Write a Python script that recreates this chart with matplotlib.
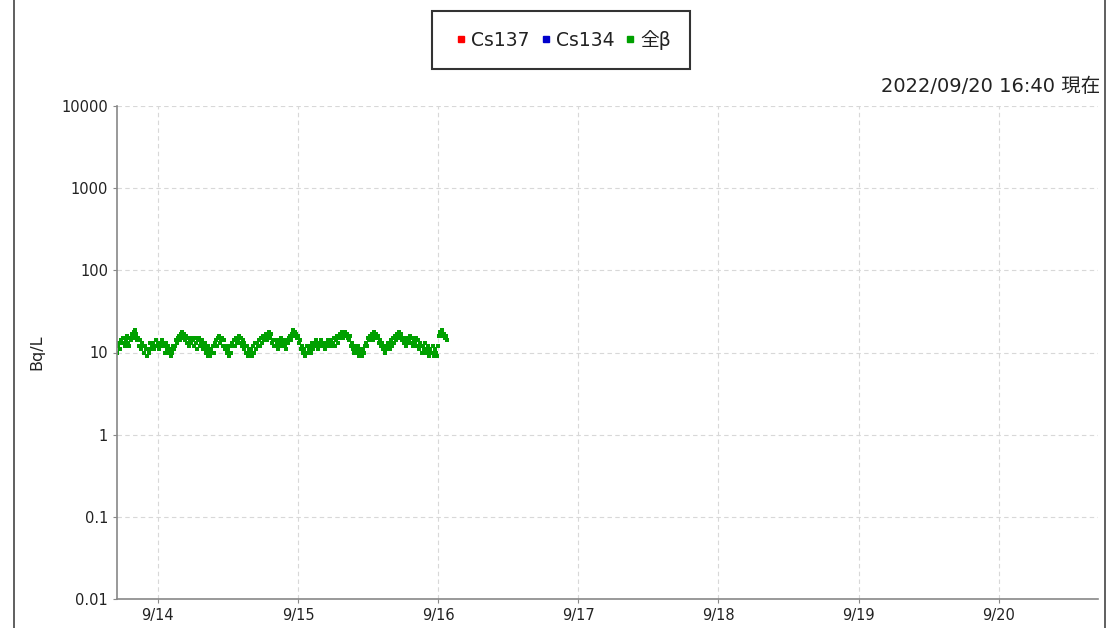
import pandas as pd
import matplotlib
matplotlib.use('Agg')
import matplotlib.pyplot as plt
import matplotlib.dates as mdates
from matplotlib.lines import Line2D

plt.rcParams['font.family'] = ['DejaVu Sans', 'Noto Sans CJK JP']

# 全β, 10分値 (9/13 17:00 から)
zen_beta = [
    10, 12, 13, 11, 14, 13,
    15, 13, 12, 14, 16, 13,
    12, 15, 14, 17, 15, 18,
    19, 16, 17, 14, 15, 12,
    14, 11, 13, 12, 10, 12,
    11, 9, 11, 10, 13, 11,
    12, 13, 11, 12, 14, 12,
    13, 11, 13, 12, 14, 13,
    12, 10, 13, 11, 12, 10,
    11, 9, 11, 10, 12, 11,
    12, 14, 13, 15, 16, 14,
    17, 18, 15, 17, 14, 16,
    13, 15, 12, 14, 13, 15,
    14, 12, 15, 13, 11, 14,
    15, 12, 13, 14, 11, 12,
    13, 10, 11, 9, 12, 10,
    9, 11, 10, 12, 10, 13,
    14, 12, 15, 16, 13, 14,
    15, 12, 14, 11, 12, 10,
    11, 9, 12, 10, 13, 12,
    14, 12, 15, 13, 14, 16,
    13, 15, 12, 14, 11, 13,
    12, 10, 12, 9, 11, 10,
    11, 9, 12, 10, 13, 11,
    13, 12, 14, 12, 15, 13,
    16, 14, 15, 17, 14, 16,
    18, 15, 17, 13, 14, 12,
    14, 12, 13, 11, 14, 12,
    13, 15, 12, 14, 13, 12,
    11, 14, 13, 15, 16, 14,
    17, 19, 16, 18, 17, 15,
    16, 13, 14, 11, 12, 10,
    11, 9, 10, 12, 10, 11,
    12, 10, 13, 11, 12, 13,
    14, 12, 13, 11, 13, 12,
    14, 12, 13, 12, 11, 13,
    12, 14, 13, 12, 14, 12,
    13, 15, 12, 14, 16, 13,
    15, 17, 16, 18, 15, 17,
    18, 16, 17, 15, 14, 16,
    12, 13, 11, 12, 10, 12,
    11, 10, 12, 9, 11, 10,
    9, 11, 10, 12, 13, 12,
    15, 14, 16, 15, 17, 14,
    18, 16, 17, 15, 16, 13,
    14, 12, 13, 11, 12, 10,
    12, 11, 13, 12, 11, 13,
    14, 12, 15, 13, 16, 14,
    17, 15, 18, 16, 17, 14,
    15, 13, 14, 12, 15, 13,
    14, 16, 13, 15, 12, 14,
    13, 15, 12, 14, 11, 13,
    12, 10, 12, 11, 13, 10,
    11, 10, 12, 9, 11, 10,
    10, 12, 9, 11, 10, 9,
    12, 16, 18, 17, 19, 16,
    17, 15, 16, 14,
]
jikan = pd.date_range('2022-09-13 17:00', periods=len(zen_beta), freq='10min')

yticks = [0.01, 0.1, 1, 10, 100, 1000, 10000]
ylabels = ['0.01', '0.1', '1', '10', '100', '1000', '10000']
series = ['Cs137', 'Cs134', '全β']
cores = ['#ff0000', '#0000cc', '#00a000']

fig = plt.figure(figsize=(11.08, 6.28), dpi=100)
ax = fig.add_axes([117 / 1108, 29 / 628, 981 / 1108, 493 / 628])

ax.plot(jikan, zen_beta, 's', color=cores[2], ms=2.3, mew=0)

ax.set_yscale('log')
ax.set_ylim(0.01, 10000)
ax.set_yticks(yticks)
ax.set_yticklabels(ylabels)
ax.yaxis.set_minor_locator(matplotlib.ticker.NullLocator())
ax.set_xlim(pd.Timestamp('2022-09-13 17:00'), pd.Timestamp('2022-09-20 17:00'))
ax.xaxis.set_major_locator(mdates.DayLocator())
ax.xaxis.set_major_formatter(matplotlib.ticker.FuncFormatter(
    lambda v, p: '%d/%d' % (mdates.num2date(v).month, mdates.num2date(v).day)))

ax.grid(True, color='#d8d8d8', linestyle=(0, (4, 3)), linewidth=0.8)
for s in ['top', 'right']:
    ax.spines[s].set_visible(False)
for s in ['left', 'bottom']:
    ax.spines[s].set_color('#888888')
    ax.spines[s].set_linewidth(1.2)
ax.tick_params(colors='#888888', labelcolor='#222222', labelsize=10.5, length=3)
ax.set_ylabel('Bq/L', fontsize=11.5, labelpad=12, color='#222222')

handles = [Line2D([], [], marker='s', ls='none', color=c, ms=5) for c in cores]
leg = fig.legend(handles, series, loc='center', bbox_to_anchor=(561 / 1108, 1 - 40 / 628),
                 ncol=3, handletextpad=0.0, columnspacing=0.3,
                 borderpad=1.0, fancybox=False, handlelength=1.1,
                 prop={'family': ['DejaVu Sans', 'Noto Sans CJK JP'], 'size': 13.5})
leg.get_frame().set_edgecolor('black')
leg.get_frame().set_linewidth(1.5)
for t in leg.get_texts():
    t.set_color('#222222')

fig.text(1100 / 1108, 1 - 87 / 628, '2022/09/20 16:40 現在', ha='right', va='center',
         fontsize=14, color='#222222')

fig.add_artist(Line2D([14 / 1108, 14 / 1108], [0, 1], color='#444444', lw=1.2))
fig.add_artist(Line2D([1105 / 1108, 1105 / 1108], [0, 1], color='#444444', lw=1.2))

fig.savefig('out.png', dpi=100)
